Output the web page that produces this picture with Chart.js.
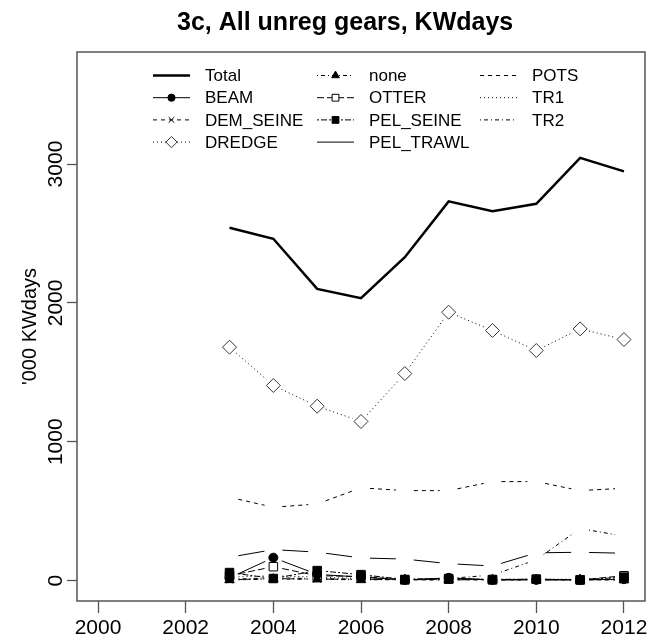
<!DOCTYPE html>
<html>
<head>
<meta charset="utf-8">
<script src="https://cdn.jsdelivr.net/npm/chart.js@4/dist/chart.umd.min.js"></script>
<style>
  html, body { margin: 0; padding: 0; background: #fff; }
  #c { display: block; }
</style>
</head>
<body>
<canvas id="c" width="653" height="637"></canvas>
<script>
// ---- data ----
const years = [2003, 2004, 2005, 2006, 2007, 2008, 2009, 2010, 2011, 2012];
const seriesNames = ['Total', 'BEAM', 'DEM_SEINE', 'DREDGE', 'none', 'OTTER', 'PEL_SEINE', 'PEL_TRAWL', 'POTS', 'TR1', 'TR2'];
const total     = [2541, 2462, 2101, 2034, 2329, 2731, 2661, 2714, 3045, 2947];
const beam      = [20, 165, 45, 25, 5, 20, 5, 5, 5, 10];
const demSeine  = [5, 15, 10, 10, 5, 5, 5, 5, 5, 5];
const dredge    = [1681, 1405, 1256, 1146, 1491, 1933, 1801, 1657, 1813, 1736];
const none      = [5, 10, 10, 5, 8, 5, 8, 5, 8, 5];
const otter     = [35, 100, 35, 30, 5, 15, 5, 10, 5, 35];
const pelSeine  = [58, 15, 72, 43, 8, 10, 8, 10, 5, 25];
const pelTrawl  = [168, 223, 205, 163, 155, 122, 105, 200, 204, 197];
const pots      = [600, 528, 552, 668, 648, 648, 713, 713, 648, 665];
const tr1       = [25, 35, 25, 15, 10, 15, 10, 10, 10, 15];
const tr2       = [10, 20, 15, 10, 10, 15, 40, 150, 375, 320];
const xTicks = [2000, 2002, 2004, 2006, 2008, 2010, 2012];
const yTicks = [0, 1000, 2000, 3000];
const titleText = '3c, All unreg gears, KWdays';
const yTitle = "'000 KWdays";

const FONT = "'Liberation Sans', Arial, Helvetica, sans-serif";
const GAP = 9;

function pts(vals) { return years.map((y, i) => ({ x: y, y: vals[i] })); }

function ds(label, vals, o) {
  return Object.assign({
    label, data: pts(vals),
    borderColor: '#000', backgroundColor: '#000',
    borderWidth: 1, rDash: [],
    showLine: false, gapLine: true,
    pointStyle: false, pointRadius: 0,
    pointBorderColor: '#000', pointBackgroundColor: '#000', pointBorderWidth: 1
  }, o);
}

const datasets = [
  ds(seriesNames[0], total, { borderWidth: 2.5, showLine: true, gapLine: false }),
  ds(seriesNames[1], beam, { pointStyle: 'circle', pointRadius: 4.5 }),
  ds(seriesNames[2], demSeine, { rDash: [4, 4], pointStyle: 'crossRot', pointRadius: 5 }),
  ds(seriesNames[3], dredge, { rDash: [1, 3], pointStyle: 'rectRot', pointRadius: 7, pointBackgroundColor: 'rgba(0,0,0,0)', pointBorderColor: '#333' }),
  ds(seriesNames[4], none, { rDash: [1, 3, 4, 3], pointStyle: 'triangle', pointRadius: 5.5 }),
  ds(seriesNames[5], otter, { rDash: [7, 3], pointStyle: 'rect', pointRadius: 6, pointBackgroundColor: 'rgba(0,0,0,0)' }),
  ds(seriesNames[6], pelSeine, { rDash: [2, 2, 6, 2], pointStyle: 'rect', pointRadius: 6 }),
  ds(seriesNames[7], pelTrawl, { rDash: [] }),
  ds(seriesNames[8], pots, { rDash: [4, 4] }),
  ds(seriesNames[9], tr1, { rDash: [1, 3] }),
  ds(seriesNames[10], tr2, { rDash: [1, 3, 4, 3] })
];

// lines with gaps at the points (R type "b")
const gapLines = {
  id: 'gapLines',
  beforeDatasetsDraw(chart) {
    const { ctx, chartArea } = chart;
    ctx.save();
    ctx.beginPath();
    ctx.rect(chartArea.left, chartArea.top, chartArea.width, chartArea.height);
    ctx.clip();
    chart.data.datasets.forEach((d, i) => {
      if (!d.gapLine) return;
      const el = chart.getDatasetMeta(i).data;
      ctx.strokeStyle = d.borderColor;
      ctx.lineWidth = d.borderWidth;
      ctx.setLineDash(d.rDash);
      for (let k = 0; k < el.length - 1; k++) {
        const a = el[k], b = el[k + 1];
        const dx = b.x - a.x, dy = b.y - a.y, len = Math.hypot(dx, dy);
        if (len <= 2 * GAP) continue;
        const ux = dx / len, uy = dy / len;
        ctx.lineDashOffset = 0;
        ctx.beginPath();
        ctx.moveTo(a.x + ux * GAP, a.y + uy * GAP);
        ctx.lineTo(b.x - ux * GAP, b.y - uy * GAP);
        ctx.stroke();
      }
    });
    ctx.restore();
  }
};

// frame, title and legend
const decor = {
  id: 'decor',
  afterDraw(chart) {
    const { ctx, chartArea: a } = chart;
    ctx.save();
    ctx.strokeStyle = '#555';
    ctx.lineWidth = 1.5;
    ctx.setLineDash([]);
    ctx.strokeRect(a.left, a.top, a.right - a.left, a.bottom - a.top);

    // title
    ctx.fillStyle = '#000';
    ctx.font = 'bold 25px ' + FONT;
    ctx.textAlign = 'left';
    ctx.textBaseline = 'alphabetic';
    ctx.fillText(titleText, 177, 30);

    // legend (3 columns x 4 rows, column-major)
    const colX = [153, 317, 480];
    const sampleW = 37;
    const rowY = [75.5, 97.7, 119.9, 142.1];
    ctx.font = '17px ' + FONT;
    ctx.textBaseline = 'middle';
    chart.data.datasets.forEach((d, i) => {
      const col = Math.floor(i / 4), row = i % 4;
      const x0 = colX[col], x1 = x0 + sampleW, y = rowY[row];
      ctx.strokeStyle = '#000';
      ctx.lineWidth = d.borderWidth;
      ctx.setLineDash(d.gapLine ? d.rDash : []);
      ctx.beginPath(); ctx.moveTo(x0, y); ctx.lineTo(x1, y); ctx.stroke();
      ctx.setLineDash([]);
      if (d.pointStyle && d.pointRadius > 0) {
        ctx.fillStyle = d.pointBackgroundColor === 'rgba(0,0,0,0)' ? '#fff' : d.pointBackgroundColor;
        ctx.strokeStyle = d.pointBorderColor;
        ctx.lineWidth = d.pointBorderWidth;
        Chart.helpers.drawPoint(ctx, { pointStyle: d.pointStyle, radius: d.pointRadius * 0.8, borderWidth: d.pointBorderWidth, rotation: 0 }, (x0 + x1) / 2, y);
      }
      ctx.fillStyle = '#000';
      ctx.fillText(d.label, x1 + 15, y + 1);
    });
    ctx.restore();
  }
};

new Chart(document.getElementById('c'), {
  type: 'line',
  data: { datasets },
  options: {
    responsive: false,
    animation: false,
    events: [],
    layout: { padding: { top: 52, right: 5, left: 0, bottom: 0 } },
    plugins: { legend: { display: false }, title: { display: false }, tooltip: { enabled: false } },
    scales: {
      x: {
        type: 'linear',
        min: 1999.52, max: 2012.48,
        afterBuildTicks: (ax) => { ax.ticks = xTicks.map(v => ({ value: v })); },
        afterFit: (ax) => { ax.height = 36; },
        border: { display: false },
        grid: { drawOnChartArea: false, drawTicks: true, tickLength: 12, tickColor: '#555', tickWidth: 1.3 },
        ticks: { color: '#000', font: { family: FONT, size: 21 }, padding: 3, maxRotation: 0, autoSkip: false, callback: (v) => String(v) }
      },
      y: {
        type: 'linear',
        min: -147, max: 3807,
        afterBuildTicks: (ax) => { ax.ticks = yTicks.map(v => ({ value: v })); },
        afterFit: (ax) => { ax.width = 77; },
        border: { display: false },
        grid: { drawOnChartArea: false, drawTicks: true, tickLength: 10, tickColor: '#555', tickWidth: 1.3 },
        ticks: { color: '#000', font: { family: FONT, size: 21 }, minRotation: 90, maxRotation: 90, crossAlign: 'center', padding: -13, autoSkip: false, callback: (v) => String(v) },
        title: { display: true, text: yTitle, color: '#000', font: { family: FONT, size: 20 }, padding: { top: 18, bottom: 0 } }
      }
    }
  },
  plugins: [gapLines, decor]
});
</script>
</body>
</html>
